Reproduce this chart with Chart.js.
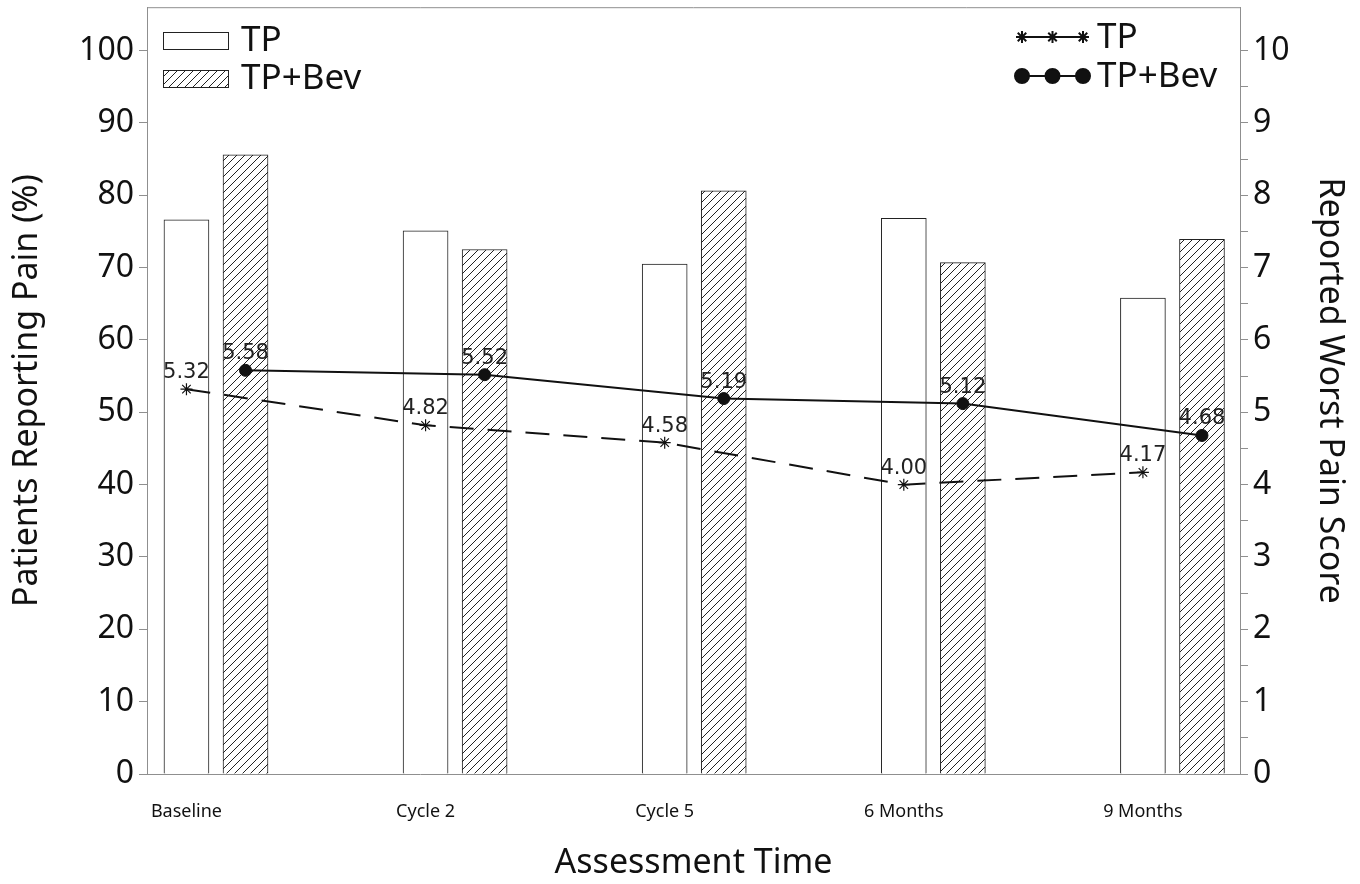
<!DOCTYPE html>
<html>
<head>
<meta charset="utf-8">
<script src="https://cdn.jsdelivr.net/npm/chart.js@4.4.1/dist/chart.umd.min.js"></script>
<style>
  body { margin: 0; background: #fff; }
  #wrap { width: 1360px; height: 884px; }
</style>
</head>
<body>
<div id="wrap"><canvas id="painChart" width="1360" height="884"></canvas></div>
<script>
// --- Data ---
const categories = ["Baseline", "Cycle 2", "Cycle 5", "6 Months", "9 Months"];
const painPctTP = [76.6, 75.1, 70.5, 76.8, 65.8];
const painPctTPBev = [85.6, 72.5, 80.6, 70.7, 73.9];
const worstScoreTP = [5.32, 4.82, 4.58, 4.00, 4.17];
const worstScoreTPBev = [5.58, 5.52, 5.19, 5.12, 4.68];
const leftTicks = [0, 10, 20, 30, 40, 50, 60, 70, 80, 90, 100];
const rightTicks = [0, 1, 2, 3, 4, 5, 6, 7, 8, 9, 10];

// --- Layout constants ---
const BEV_SHIFT = 0.247;   // TP+Bev sits right of the category slot
const AXIS_GREY = "#8f8f8f";
const FONT = "'Noto Sans', 'Open Sans', sans-serif";

// --- Hatch pattern for TP+Bev ---
function makeHatch() {
  const c = document.createElement("canvas");
  c.width = 8; c.height = 8;
  const g = c.getContext("2d");
  g.fillStyle = "#fff";
  g.fillRect(0, 0, 8, 8);
  g.strokeStyle = "#222";
  g.lineWidth = 1;
  g.beginPath();
  g.moveTo(-1, 9); g.lineTo(9, -1);
  g.moveTo(-1, 1); g.lineTo(1, -1);
  g.moveTo(7, 9); g.lineTo(9, 7);
  g.stroke();
  return g.createPattern(c, "repeat");
}
const hatch = makeHatch();

const toPoints = (vals, shift) => vals.map((v, i) => ({ x: i + shift, y: v }));

// vertical axes: no extra room for half-labels at the ends
function fitVertical(width) {
  return s => {
    s.width = width;
    s.paddingTop = 0;
    s.paddingBottom = 0;
  };
}

// --- Plugins: frame, value labels, legends ---
const extras = {
  id: "extras",
  afterDraw(chart) {
    const ctx = chart.ctx;
    const a = chart.chartArea;
    ctx.save();
    // top border of the frame
    ctx.strokeStyle = AXIS_GREY;
    ctx.lineWidth = 1;
    ctx.beginPath();
    ctx.moveTo(a.left, a.top + 0.5);
    ctx.lineTo(a.right, a.top + 0.5);
    ctx.stroke();

    // value labels above line points
    ctx.fillStyle = "#222";
    ctx.font = "21px 'DejaVu Sans', sans-serif";
    ctx.textAlign = "center";
    ctx.textBaseline = "bottom";
    chart.data.datasets.forEach((ds, di) => {
      if (ds.type !== "line") return;
      chart.getDatasetMeta(di).data.forEach((pt, i) => {
        ctx.fillText(ds.data[i].y.toFixed(2), pt.x, pt.y - 6);
      });
    });

    // bar legend (top left)
    const bars = chart.data.datasets.filter(d => d.type === "bar");
    ctx.font = "35px " + FONT;
    ctx.textAlign = "left";
    ctx.textBaseline = "middle";
    bars.forEach((ds, i) => {
      const y = 32 + i * 38;
      ctx.fillStyle = ds.backgroundColor;
      ctx.fillRect(163, y, 66, 18);
      ctx.strokeStyle = "#222";
      ctx.lineWidth = 1;
      ctx.strokeRect(163.5, y + 0.5, 65, 17);
      ctx.fillStyle = "#111";
      ctx.fillText(ds.label, 241, y + 9);
    });

    // line legend (top right)
    const lines = chart.data.datasets.filter(d => d.type === "line");
    lines.forEach((ds, i) => {
      const y = 37 + i * 39;
      ctx.strokeStyle = "#111";
      ctx.lineWidth = 2;
      ctx.setLineDash([]);
      ctx.beginPath();
      ctx.moveTo(1022, y);
      ctx.lineTo(1083, y);
      ctx.stroke();
      [1022, 1052.5, 1083].forEach(x => {
        ctx.fillStyle = "#111";
        Chart.helpers.drawPoint(ctx, {
          pointStyle: ds.pointStyle,
          radius: ds.pointStyle === "circle" ? 7 : ds.pointRadius,
          borderWidth: ds.pointBorderWidth,
          rotation: 0
        }, x, y);
      });
      ctx.fillStyle = "#111";
      ctx.fillText(ds.label, 1097, y + 1);
    });
    ctx.restore();
  }
};

// --- Chart ---
const ctx = document.getElementById("painChart").getContext("2d");
const chart = new Chart(ctx, {
  type: "bar",
  data: {
    datasets: [
      {
        type: "bar",
        label: "TP",
        data: toPoints(painPctTP, 0),
        backgroundColor: "#ffffff",
        borderColor: "#222",
        borderWidth: 1,
        barThickness: 45,
        grouped: false,
        yAxisID: "y",
        order: 2
      },
      {
        type: "bar",
        label: "TP+Bev",
        data: toPoints(painPctTPBev, BEV_SHIFT),
        backgroundColor: hatch,
        borderColor: "#222",
        borderWidth: 1,
        barThickness: 45,
        grouped: false,
        yAxisID: "y",
        order: 2
      },
      {
        type: "line",
        label: "TP",
        data: toPoints(worstScoreTP, 0),
        borderColor: "#111",
        borderWidth: 2,
        borderDash: [24, 14],
        pointStyle: "star",
        pointRadius: 6,
        pointBorderWidth: 1.2,
        pointBorderColor: "#111",
        pointBackgroundColor: "#111",
        yAxisID: "y1",
        order: 1
      },
      {
        type: "line",
        label: "TP+Bev",
        data: toPoints(worstScoreTPBev, BEV_SHIFT),
        borderColor: "#111",
        borderWidth: 2,
        pointStyle: "circle",
        pointRadius: 6,
        pointBorderWidth: 1,
        pointBorderColor: "#111",
        pointBackgroundColor: "#111",
        yAxisID: "y1",
        order: 1
      }
    ]
  },
  options: {
    responsive: false,
    animation: false,
    layout: { padding: { top: 7 } },
    plugins: {
      legend: { display: false },
      tooltip: { enabled: false }
    },
    scales: {
      x: {
        type: "linear",
        min: -0.165,
        max: 4.406,
        offset: false,
        grid: { display: false, offset: false },
        border: { display: true, color: AXIS_GREY, width: 1 },
        afterFit: s => { s.height = 110; },
        ticks: {
          stepSize: 1,
          autoSkip: false,
          includeBounds: false,
          maxRotation: 0,
          padding: 19,
          color: "#111",
          font: { family: FONT, size: 18 },
          callback: v => categories[v] ?? ""
        },
        title: {
          display: true,
          text: "Assessment Time",
          color: "#111",
          font: { family: FONT, size: 34 },
          padding: { top: 0, bottom: 0 }
        }
      },
      y: {
        position: "left",
        min: 0,
        max: 106,
        afterFit: fitVertical(147),
        afterBuildTicks: s => { s.ticks = leftTicks.map(v => ({ value: v })); },
        grid: { drawOnChartArea: false, tickLength: 8, color: AXIS_GREY },
        border: { display: true, color: AXIS_GREY, width: 1 },
        ticks: {
          padding: 5,
          color: "#111",
          font: { family: FONT, size: 32 }
        },
        title: {
          display: true,
          text: "Patients Reporting Pain (%)",
          color: "#111",
          font: { family: FONT, size: 34 },
          padding: { top: 7, bottom: 0 }
        }
      },
      y1: {
        position: "right",
        min: 0,
        max: 10.6,
        afterFit: fitVertical(120),
        afterBuildTicks: s => {
          const t = [];
          rightTicks.forEach(v => {
            t.push({ value: v });
            if (v < 10) t.push({ value: v + 0.5 });
          });
          s.ticks = t;
        },
        grid: { drawOnChartArea: false, tickLength: 8, color: AXIS_GREY },
        border: { display: true, color: AXIS_GREY, width: 1 },
        ticks: {
          autoSkip: false,
          padding: 5,
          color: "#111",
          font: { family: FONT, size: 32 },
          callback: v => (Number.isInteger(v) ? v : "")
        },
        title: {
          display: true,
          text: "Reported Worst Pain Score",
          color: "#111",
          font: { family: FONT, size: 34 },
          padding: { top: 10, bottom: 0 }
        }
      }
    }
  },
  plugins: [extras]
});
</script>
</body>
</html>
